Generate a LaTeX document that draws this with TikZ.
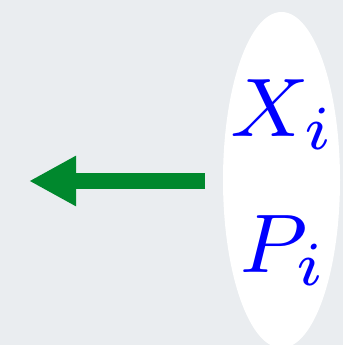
\documentclass[tikz,border=0pt]{standalone}
\usetikzlibrary{arrows.meta}
\definecolor{bgc}{RGB}{234,237,240}
\definecolor{arrowgreen}{RGB}{0,136,45}
\definecolor{txtblue}{RGB}{0,0,255}
\tikzset{
  varlabel/.style={text=txtblue, scale=10.4, inner sep=0pt, anchor=base, font=\fontsize{8}{9}\selectfont},
  bigarrow/.style={draw=arrowgreen, line width=16pt, -{Triangle[length=47pt,width=47pt]}}
}
\begin{document}
\begin{tikzpicture}[x=1pt,y=1pt]
\fill[bgc] (0,0) rectangle (343,345);
\useasboundingbox (0,0) rectangle (343,345);
\begin{scope}
\clip (0,0) rectangle (343,345);
\fill[white] (281.5,165) ellipse [x radius=58.5, y radius=168];
\end{scope}
\node[varlabel] (x) at (283.5,208) {$X_i$};
\node[varlabel] (p) at (284,72) {$P_i$};
\coordinate (start) at (205,164);
\coordinate (tip) at (29,164);
\draw[bigarrow] (start) -- (tip);
\end{tikzpicture}
\end{document}
